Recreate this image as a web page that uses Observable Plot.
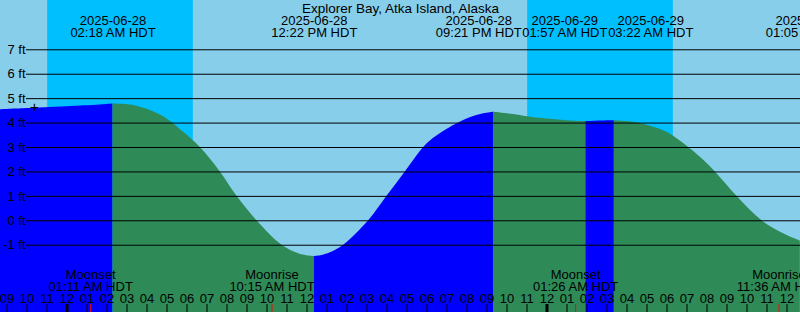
<!DOCTYPE html>
<html><head><meta charset="utf-8">
<script src="https://cdn.jsdelivr.net/npm/d3@7"></script>
<script src="https://cdn.jsdelivr.net/npm/@observablehq/plot@0.6"></script>
<style>html,body{margin:0;padding:0;background:#87CEEB;overflow:hidden}svg{display:block}</style>
</head><body><div id="chart"></div>
<script>
const title = "Explorer Bay, Atka Island, Alaska";

// Tide curve readings (local HDT wall time, feet)
const tideTimes = [
  "2025-06-27T20:40","2025-06-27T22:20","2025-06-28T00:00","2025-06-28T01:40","2025-06-28T02:18",
  "2025-06-28T03:20","2025-06-28T04:10","2025-06-28T05:00","2025-06-28T05:50","2025-06-28T06:40",
  "2025-06-28T07:40","2025-06-28T08:30","2025-06-28T09:30","2025-06-28T10:45","2025-06-28T11:35",
  "2025-06-28T12:00","2025-06-28T12:22","2025-06-28T12:45","2025-06-28T13:10","2025-06-28T13:50",
  "2025-06-28T15:05","2025-06-28T16:00","2025-06-28T16:55","2025-06-28T17:50","2025-06-28T18:20",
  "2025-06-28T19:10","2025-06-28T19:35","2025-06-28T20:00","2025-06-28T20:50","2025-06-28T21:21",
  "2025-06-28T22:30","2025-06-28T23:20","2025-06-29T00:10","2025-06-29T01:00","2025-06-29T01:57",
  "2025-06-29T02:40","2025-06-29T03:22","2025-06-29T04:20","2025-06-29T05:10","2025-06-29T06:00",
  "2025-06-29T07:05","2025-06-29T07:40","2025-06-29T08:25","2025-06-29T09:30","2025-06-29T10:45",
  "2025-06-29T11:50","2025-06-29T12:40"
];
const tideFeet = [
  4.55, 4.61, 4.67, 4.74, 4.78,
  4.72, 4.51, 4.17, 3.62, 3.00,
  2.00, 1.00, 0.00, -1.00, -1.35,
  -1.43, -1.46, -1.42, -1.31, -1.00,
  0.00, 1.00, 2.00, 3.00, 3.38,
  3.82, 4.00, 4.17, 4.38, 4.44,
  4.33, 4.22, 4.16, 4.10, 4.06,
  4.09, 4.10, 4.03, 3.87, 3.62,
  3.00, 2.60, 2.00, 1.00, 0.00,
  -0.53, -0.83
];

// High / low tide events
const extremeTimes  = ["2025-06-28T02:18","2025-06-28T12:22","2025-06-28T21:21","2025-06-29T01:57","2025-06-29T03:22","2025-06-29T13:05"];
const extremeDates  = ["2025-06-28","2025-06-28","2025-06-28","2025-06-29","2025-06-29","2025-06-29"];
const extremeLabels = ["02:18 AM HDT","12:22 PM HDT","09:21 PM HDT","01:57 AM HDT","03:22 AM HDT","01:05 PM HDT"];
const extremeTypes  = ["H","L","H","L","H","L"];

// Night (sunset -> sunrise)
const nightStarts = ["2025-06-27T23:02","2025-06-28T23:02"];
const nightEnds   = ["2025-06-28T06:19","2025-06-29T06:19"];

// Moon events
const moonTimes  = ["2025-06-28T01:11","2025-06-28T10:15","2025-06-29T01:26","2025-06-29T11:36"];
const moonNames  = ["Moonset","Moonrise","Moonset","Moonrise"];
const moonLabels = ["01:11 AM HDT","10:15 AM HDT","01:26 AM HDT","11:36 AM HDT"];

const gridFeet = [-1, 0, 1, 2, 3, 4, 5, 6, 7];
const markerTime = "2025-06-27T22:22";
const markerFeet = 4.64;

const xStart = "2025-06-27T20:40:30";
const xEnd   = "2025-06-29T12:40:30";
const yMin = -3.754, yMax = 9.018;

const colors = {rise: "#0000FF", fall: "#2E8B57", day: "#87CEEB", night: "#00BFFF"};
const FONT = "'Liberation Sans', Arial, sans-serif";
const W = 800, H = 312;

const T = s => new Date(s + (s.length === 16 ? ":00Z" : "Z"));

// Build rising/falling segments split at extremes
const tide = tideTimes.map((s, i) => ({t: T(s), ft: tideFeet[i]}));
const ext = extremeTimes.map((s, i) => ({t: T(s), date: extremeDates[i], label: extremeLabels[i], type: extremeTypes[i]}));
const areaData = [];
let seg = 0;
const segColor = k => (ext[k] && ext[k].type === "H") ? colors.rise : colors.fall;
for (const p of tide) {
  areaData.push({t: p.t, ft: p.ft, seg, color: segColor(seg)});
  if (ext[seg] && +p.t === +ext[seg].t) {
    seg++;
    areaData.push({t: p.t, ft: p.ft, seg, color: segColor(seg)});
  }
}

// Label collision avoidance: spread overlapping labels around their mean position
const xs = d3.scaleUtc().domain([T(xStart), T(xEnd)]).range([0, W]);
const ctx = document.createElement("canvas").getContext("2d");
ctx.font = `13px ${FONT}`;
function spread(times, texts) {
  const w = d3.max(texts, s => ctx.measureText(s).width);
  const px = times.map(t => xs(t));
  let groups = px.map((x, i) => ({idx: [i], c: x}));
  let changed = true;
  while (changed) {
    changed = false;
    for (let i = 0; i < groups.length - 1; i++) {
      const a = groups[i], b = groups[i + 1];
      const aR = a.c + (a.idx.length - 1) * w / 2;
      const bL = b.c - (b.idx.length - 1) * w / 2;
      if (bL - aR < w) {
        const idx = a.idx.concat(b.idx);
        groups.splice(i, 2, {idx, c: d3.mean(idx, j => px[j])});
        changed = true;
        break;
      }
    }
  }
  const out = new Array(px.length);
  for (const g of groups) {
    const n = g.idx.length;
    g.idx.forEach((j, k) => { out[j] = xs.invert(g.c + (k - (n - 1) / 2) * w); });
  }
  return out;
}
const extLabelT = spread(ext.map(d => d.t), ext.map(d => d.label));
ext.forEach((d, i) => d.lt = extLabelT[i]);

const nights = nightStarts.map((s, i) => ({start: T(s), end: T(nightEnds[i])}));
const moons = moonTimes.map((s, i) => ({t: T(s), name: moonNames[i], label: moonLabels[i]}));
const moonLabelT = spread(moons.map(d => d.t), moons.map(d => d.label));
moons.forEach((d, i) => d.lt = moonLabelT[i]);
const hours = d3.utcHours(T(xStart), T(xEnd));
const midnights = hours.filter(d => d.getUTCHours() === 0);
const fmtHour = d3.utcFormat("%I");

const chart = Plot.plot({
  width: W, height: H,
  marginTop: 0, marginBottom: 0, marginLeft: 0, marginRight: 0,
  style: {background: colors.day, fontFamily: FONT, fontSize: "13px", color: "black"},
  x: {type: "utc", domain: [T(xStart), T(xEnd)], axis: null},
  y: {domain: [yMin, yMax], axis: null},
  color: {type: "identity"},
  marks: [
    Plot.rect(nights, {x1: "start", x2: "end", fill: colors.night}),
    Plot.areaY(areaData, {x: "t", y1: yMin, y2: "ft", z: "seg", fill: "color", curve: "catmull-rom"}),
    Plot.ruleY(gridFeet, {stroke: "black", strokeWidth: 1, insetLeft: 26}),
    Plot.text(gridFeet, {y: d => d, text: d => `${d} ft`, frameAnchor: "left", textAnchor: "end", dx: 25, lineAnchor: "middle", fill: "black"}),
    Plot.text([title], {text: d => d, frameAnchor: "top", lineAnchor: "bottom", dy: 12, fontSize: 13.5, fill: "black"}),
    Plot.text(ext, {x: "lt", text: "date", frameAnchor: "top", lineAnchor: "bottom", dy: 24, fill: "black"}),
    Plot.text(ext, {x: "lt", text: "label", frameAnchor: "top", lineAnchor: "bottom", dy: 36, fill: "black"}),
    Plot.text([markerFeet], {x: T(markerTime), y: d => d, text: () => "+", fontSize: 15, lineAnchor: "middle", fill: "black"}),
    Plot.ruleX(hours, {x: d => d, stroke: "black", strokeWidth: 1, insetTop: 304}),
    Plot.ruleX(midnights, {x: d => d, stroke: "black", strokeWidth: 3, insetTop: 304}),
    Plot.ruleX(moons, {x: "t", stroke: "red", strokeWidth: 1, insetTop: 304}),
    Plot.text(hours, {x: d => d, text: d => fmtHour(d), frameAnchor: "bottom", lineAnchor: "bottom", dy: -10, fill: "black"}),
    Plot.text(moons, {x: "lt", text: "name", frameAnchor: "bottom", lineAnchor: "bottom", dy: -34, fill: "black"}),
    Plot.text(moons, {x: "lt", text: "label", frameAnchor: "bottom", lineAnchor: "bottom", dy: -22, fill: "black"})
  ]
});
document.getElementById("chart").append(chart);
</script>
</body></html>
